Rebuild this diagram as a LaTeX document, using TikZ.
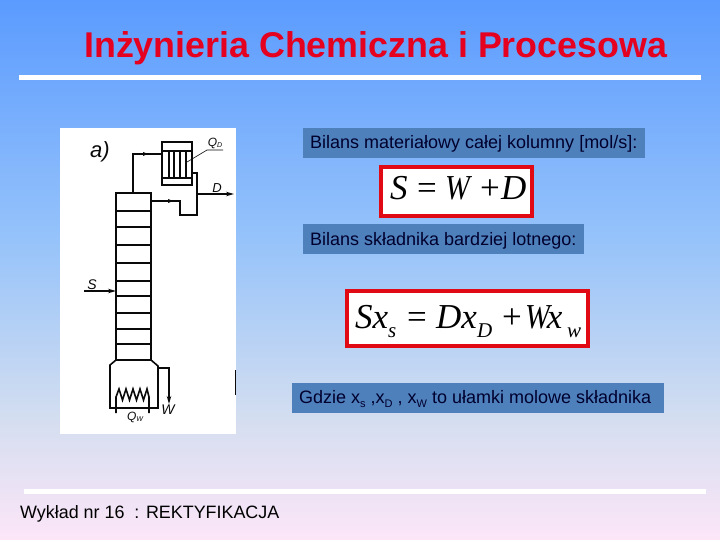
\documentclass[tikz,border=0pt]{standalone}
\usepackage{fontspec}
\usepackage{graphicx}
\setmainfont{Liberation Sans}
\newfontfamily\eqserif{Liberation Serif}
\usetikzlibrary{arrows.meta}
\definecolor{bgA}{RGB}{91,155,255}
\definecolor{bgB}{RGB}{150,195,250}
\definecolor{bgD}{RGB}{212,222,240}
\definecolor{bgC}{RGB}{252,230,248}
\definecolor{boxblue}{RGB}{78,128,188}
\definecolor{navy}{RGB}{0,0,45}
\definecolor{titlered}{RGB}{228,0,30}
\definecolor{eqred}{RGB}{225,10,20}
\definecolor{ink}{RGB}{10,10,10}
\newcommand{\fsz}[2]{\fontsize{#1}{#2}\selectfont}
\newcommand{\lowsub}[1]{\raisebox{-4pt}{\fsz{11}{12}#1}}
\newcommand{\narrowW}{\scalebox{0.85}[1]{W}}
\tikzset{
  x=1pt,y=-1pt,
  rule/.style={fill=white,draw=none},
  labelbox/.style={fill=boxblue,draw=none},
  labeltext/.style={anchor=base west,inner sep=0pt,text=navy,font=\fsz{18}{22}},
  eqbox/.style={fill=white,draw=eqred,line width=4pt},
  eqtext/.style={anchor=base west,inner sep=0pt,text=black,font=\eqserif\itshape\fsz{35}{40}},
  eqsub/.style={anchor=base west,inner sep=0pt,text=black,font=\eqserif\itshape\fsz{21}{24}},
  eqop/.style={anchor=base west,inner sep=0pt,text=black,font=\eqserif\fsz{35}{40}},
  pipe/.style={draw=ink,line width=1.6pt,line join=miter},
  thin pipe/.style={draw=ink,line width=1.1pt},
  flow/.style={draw=ink,line width=1.4pt,-{Stealth[length=8pt,width=4.5pt]}},
  hand/.style={anchor=center,inner sep=0pt,text=ink,font=\itshape\fsz{12}{14}},
}
\begin{document}
\begin{tikzpicture}
\useasboundingbox (0,0) rectangle (720,540);
\shade[top color=bgA,bottom color=bgB] (0,0) rectangle (720,240);
\shade[top color=bgB,bottom color=bgD] (0,240) rectangle (720,420);
\shade[top color=bgD,bottom color=bgC] (0,420) rectangle (720,540);

% title and rules
\node[anchor=base west,inner sep=0pt,text=titlered,font=\bfseries\fsz{35.8}{40}] (title) at (84,58) {Inżynieria Chemiczna i Procesowa};
\fill[rule] (19,75) rectangle (701,80);
\fill[rule] (24,489) rectangle (706,494);
\node[anchor=base west,inner sep=0pt,text=black,font=\fsz{17.9}{22}] (footer) at (20,518) {Wykład nr 16\ \ : REKTYFIKACJA};

% scanned column
\fill[white] (60,128) rectangle (236,434);
\coordinate (coltl) at (116,193);
\coordinate (coltr) at (151,193);
\coordinate (colbl) at (116,360);
\coordinate (colbr) at (151,360);
\draw[pipe] (coltl) -- (coltr) -- (colbr) -- (colbl) -- cycle;
\foreach \yy in {211,227,245,263,281,296,313,329,344}
  \draw[thin pipe] (116,\yy) -- (151,\yy);
% reboiler
\draw[pipe] (colbl) -- (110,365) -- (110,408) -- (158,408) -- (158,366) -- (colbr);
\draw[pipe] (116,413) -- (116,397) -- (119,389) -- (122.500,400) -- (126,389) -- (129.500,400) -- (133,389) -- (136.500,400) -- (140,389) -- (143.500,400) -- (147,389) -- (149,397) -- (149,413);
\coordinate (wstart) at (158,368);
\coordinate (wcorner) at (169,368);
\coordinate (wend) at (169,404);
\draw[pipe] (wstart) -- (wcorner) -- (169,395);
\draw[flow] (169,392) -- (wend);
% condenser
\coordinate (condtop) at (162,154);
\draw[pipe] (162,142) rectangle (192,185);
\draw[pipe] (162,151) rectangle (192,178);
\foreach \xx in {169,174,180,186}
  \draw[pipe] (\xx,151) -- (\xx,178);
\draw[pipe] (133,193) -- (133,154) -- (condtop);
\fill[ink] (143,152) -- (148,154) -- (143,156) -- cycle;
% reflux and product
\draw[pipe] (192,173) -- (197,173) -- (197,215) -- (180,215) -- (180,201) -- (151,201);
\fill[ink] (168,199) -- (173,201) -- (168,203) -- cycle;
\coordinate (dstart) at (197,194);
\coordinate (dend) at (234,194);
\draw[flow] (dstart) -- (dend);
% feed
\coordinate (fstart) at (84,291);
\coordinate (fend) at (116,291);
\draw[flow] (fstart) -- (fend);
% leader
\draw[draw=ink,line width=0.6pt] (187,162) -- (207,150) -- (223,150);
\draw[draw=ink,line width=1pt] (235,370) -- (235,395);
% hand labels
\node[hand,font=\itshape\fsz{22}{24}] (la) at (100,152) {a)};
\node[hand] (lqd) at (215,143) {Q\raisebox{-1pt}{\fsz{7}{8}D}};
\node[hand,font=\itshape\fsz{13}{14}] (ld) at (217,188) {D};
\node[hand,font=\itshape\fsz{14}{16}] (ls) at (92,285) {S};
\node[hand] (lqw) at (135,417) {Q\raisebox{-1pt}{\fsz{7}{8}W}};
\node[hand,font=\itshape\fsz{14}{16}] (lw) at (168,410) {W};

% blue labels
\fill[labelbox] (303,128) rectangle (645,158);
\node[labeltext] (b1) at (310,149) {Bilans materiałowy całej kolumny [mol/s]:};
\fill[labelbox] (303,224) rectangle (584,254);
\node[labeltext] (b2) at (310,245) {Bilans składnika bardziej lotnego:};
\fill[labelbox] (292,383) rectangle (664,413);
\node[labeltext] (b3) at (299,403) {Gdzie x\lowsub{s} ,x\lowsub{D} , x\lowsub{W} to ułamki molowe składnika};

% equations
\draw[eqbox] (381,167) rectangle (532,216);
\node[eqtext] (e1s) at (390,200) {S};
\node[eqop] (e1eq) at (417,200) {=};
\node[eqtext] (e1w) at (445,200) {\narrowW};
\node[eqop] (e1p) at (480,200) {+};
\node[eqtext] (e1d) at (501,200) {D};

\draw[eqbox] (347,291) rectangle (588,346);
\node[eqtext] (e2s) at (355,328) {Sx};
\node[eqsub] (e2ss) at (388,337) {s};
\node[eqop] (e2eq) at (407,328) {=};
\node[eqtext] (e2d) at (436,328) {Dx};
\node[eqsub] (e2sd) at (477,337) {D};
\node[eqop] (e2p) at (502,328) {+};
\node[eqtext] (e2w) at (525,328) {\narrowW\kern-3pt x};
\node[eqsub] (e2sw) at (567,337) {w};
\end{tikzpicture}
\end{document}
